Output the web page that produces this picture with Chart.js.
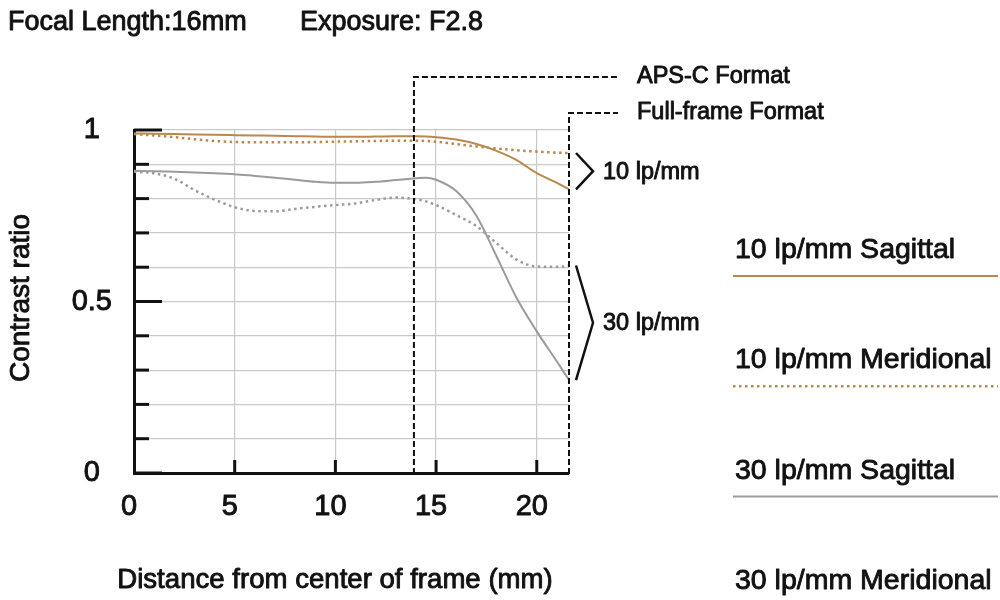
<!DOCTYPE html>
<html>
<head>
<meta charset="utf-8">
<script src="https://cdn.jsdelivr.net/npm/chart.js@4.4.1/dist/chart.umd.min.js"></script>
<style>
  html, body { margin: 0; padding: 0; background: #ffffff; }
  #wrap { width: 1000px; height: 600px; }
</style>
</head>
<body>
<div id="wrap"><canvas id="mtf" width="1000" height="600"></canvas></div>
<script>
// ---- data ----
const distanceMm = [0, 1, 2, 3, 4, 5, 6, 7, 8, 9, 10, 11, 12, 13, 14, 14.5, 15, 16, 17, 18, 19, 20, 21, 21.6];
const sagittal10 = [0.990, 0.989, 0.988, 0.987, 0.986, 0.985, 0.984, 0.983, 0.982, 0.981, 0.980, 0.980, 0.981, 0.982, 0.982, 0.981, 0.979, 0.972, 0.959, 0.939, 0.912, 0.874, 0.846, 0.827];
const meridional10 = [0.988, 0.984, 0.979, 0.973, 0.968, 0.965, 0.964, 0.964, 0.964, 0.965, 0.966, 0.967, 0.968, 0.969, 0.969, 0.968, 0.966, 0.959, 0.952, 0.946, 0.941, 0.937, 0.934, 0.933];
const sagittal30 = [0.881, 0.880, 0.878, 0.876, 0.874, 0.871, 0.866, 0.861, 0.855, 0.849, 0.846, 0.846, 0.849, 0.854, 0.859, 0.861, 0.855, 0.822, 0.750, 0.632, 0.510, 0.413, 0.325, 0.271];
const meridional30 = [0.878, 0.874, 0.858, 0.825, 0.797, 0.775, 0.764, 0.763, 0.770, 0.776, 0.781, 0.786, 0.796, 0.803, 0.798, 0.792, 0.781, 0.752, 0.720, 0.670, 0.622, 0.602, 0.601, 0.605];
const seriesLabels = ['10 lp/mm Sagittal', '10 lp/mm Meridional', '30 lp/mm Sagittal', '30 lp/mm Meridional'];
const yTickLabels = { 0: '0', 0.5: '0.5', 1: '1' };
const apscEdgeMm = 13.9;
const fullFrameEdgeMm = 21.6;
const titleLeft = 'Focal Length:16mm';
const titleRight = 'Exposure: F2.8';
const xTitle = 'Distance from center of frame (mm)';
const yTitle = 'Contrast ratio';

// ---- styles ----
const ORANGE = '#b8884f';
const GRAY = '#9b9b9b';
const INK = '#111111';
const FONT = 'Liberation Sans, Arial, sans-serif';
const TEXT_STROKE = 0.9;

function pts(values) { return distanceMm.map((d, i) => ({ x: d, y: values[i] })); }

const datasets = [
  { label: seriesLabels[0], data: pts(sagittal10), borderColor: ORANGE, borderWidth: 2, borderDash: [] },
  { label: seriesLabels[1], data: pts(meridional10), borderColor: ORANGE, borderWidth: 2.5, borderDash: [2.5, 3.5] },
  { label: seriesLabels[2], data: pts(sagittal30), borderColor: GRAY, borderWidth: 2, borderDash: [] },
  { label: seriesLabels[3], data: pts(meridional30), borderColor: GRAY, borderWidth: 2.5, borderDash: [2.5, 3.5] }
].map(d => Object.assign(d, { pointRadius: 0, fill: false, cubicInterpolationMode: 'monotone' }));

function heavyText(ctx, text, x, y) {
  ctx.save();
  ctx.setLineDash([]);
  ctx.lineJoin = 'round';
  ctx.lineWidth = TEXT_STROKE;
  ctx.strokeStyle = INK;
  ctx.fillStyle = INK;
  ctx.strokeText(text, x, y);
  ctx.fillText(text, x, y);
  ctx.restore();
}

const decorations = {
  id: 'mtfDecorations',
  afterDatasetsDraw(chart) {
    const { ctx, chartArea: a, scales: { x, y } } = chart;
    ctx.save();
    // inner tick marks
    ctx.strokeStyle = INK;
    ctx.lineWidth = 3;
    ctx.setLineDash([]);
    y.ticks.forEach(t => {
      const py = y.getPixelForValue(t.value);
      const major = Math.abs(t.value * 2 - Math.round(t.value * 2)) < 1e-6;
      ctx.beginPath();
      ctx.moveTo(a.left, py);
      ctx.lineTo(a.left + (major ? 28 : 15), py);
      ctx.stroke();
    });
    x.ticks.forEach(t => {
      if (t.value === 0) return;
      const px = x.getPixelForValue(t.value);
      ctx.beginPath();
      ctx.moveTo(px, a.bottom);
      ctx.lineTo(px, a.bottom - 13);
      ctx.stroke();
    });

    // format boundaries
    const apsX = x.getPixelForValue(apscEdgeMm);
    const ffX = x.getPixelForValue(fullFrameEdgeMm);
    ctx.lineWidth = 2;
    ctx.setLineDash([6, 3]);
    ctx.beginPath();
    ctx.moveTo(apsX, a.bottom + 1);
    ctx.lineTo(apsX, 77);
    ctx.lineTo(618, 77);
    ctx.stroke();
    ctx.beginPath();
    ctx.moveTo(ffX, a.bottom + 1);
    ctx.lineTo(ffX, 113);
    ctx.lineTo(618, 113);
    ctx.stroke();
    ctx.setLineDash([]);

    ctx.textAlign = 'left';
    ctx.textBaseline = 'middle';
    ctx.font = '23.5px ' + FONT;
    heavyText(ctx, 'APS-C Format', 637, 77);
    heavyText(ctx, 'Full-frame Format', 637, 113);

    // brackets grouping series ends
    function bracket(vals, label) {
      const top = y.getPixelForValue(Math.max(...vals));
      const bot = y.getPixelForValue(Math.min(...vals));
      const mid = (top + bot) / 2;
      ctx.strokeStyle = INK;
      ctx.lineWidth = 2.5;
      ctx.beginPath();
      ctx.moveTo(ffX + 7, top);
      ctx.lineTo(ffX + 24, mid);
      ctx.lineTo(ffX + 7, bot);
      ctx.stroke();
      heavyText(ctx, label, ffX + 34, mid + 1);
    }
    const last = arr => arr[arr.length - 1];
    bracket([last(sagittal10), last(meridional10)], '10 lp/mm');
    bracket([last(sagittal30), last(meridional30)], '30 lp/mm');

    // titles
    ctx.textBaseline = 'alphabetic';
    ctx.font = '27px ' + FONT;
    heavyText(ctx, titleLeft, 8, 30);
    heavyText(ctx, titleRight, 300, 30);
    ctx.font = '27.6px ' + FONT;
    ctx.textAlign = 'center';
    heavyText(ctx, xTitle, 335, 588);
    ctx.save();
    ctx.translate(21, 298);
    ctx.rotate(-Math.PI / 2);
    ctx.textBaseline = 'middle';
    ctx.font = '28px ' + FONT;
    heavyText(ctx, yTitle, 0, 0);
    ctx.restore();

    // legend on the right
    ctx.textAlign = 'left';
    ctx.textBaseline = 'alphabetic';
    ctx.font = '28.5px ' + FONT;
    chart.data.datasets.forEach((ds, i) => {
      const base = 258 + i * 110.3;
      heavyText(ctx, ds.label, 735, base);
      ctx.strokeStyle = ds.borderColor;
      ctx.lineWidth = ds.borderWidth;
      ctx.setLineDash(ds.borderDash || []);
      ctx.beginPath();
      ctx.moveTo(733, base + 18);
      ctx.lineTo(998, base + 18);
      ctx.stroke();
      ctx.setLineDash([]);
    });
    ctx.restore();
  }
};

new Chart(document.getElementById('mtf'), {
  type: 'line',
  data: { datasets },
  options: {
    responsive: false,
    animation: false,
    devicePixelRatio: 1,
    layout: { padding: { left: 34, right: 431, top: 130, bottom: 67 } },
    plugins: { legend: { display: false }, tooltip: { enabled: false }, title: { display: false } },
    scales: {
      x: {
        type: 'linear',
        min: 0,
        max: fullFrameEdgeMm,
        afterFit: s => { s.height = 60; },
        border: { display: true, color: INK, width: 3 },
        grid: { color: '#c9c9c9', lineWidth: 1.2, drawTicks: false },
        ticks: {
          stepSize: 5,
          includeBounds: false,
          autoSkip: false,
          maxRotation: 0,
          padding: 17,
          labelOffset: -5,
          color: INK,
          textStrokeColor: INK,
          textStrokeWidth: TEXT_STROKE,
          font: { family: FONT, size: 29 },
          callback: v => String(v)
        }
      },
      y: {
        type: 'linear',
        min: 0,
        max: 1,
        afterFit: s => { s.width = 100; },
        border: { display: true, color: INK, width: 3 },
        grid: { color: '#c9c9c9', lineWidth: 1.2, drawTicks: false },
        ticks: {
          stepSize: 0.1,
          autoSkip: false,
          crossAlign: 'center',
          padding: 22,
          color: INK,
          textStrokeColor: INK,
          textStrokeWidth: TEXT_STROKE,
          font: { family: FONT, size: 29 },
          callback: v => {
            const k = Math.round(v * 10) / 10;
            return Object.prototype.hasOwnProperty.call(yTickLabels, k) ? yTickLabels[k] : '';
          }
        }
      }
    }
  },
  plugins: [decorations]
});
</script>
</body>
</html>
